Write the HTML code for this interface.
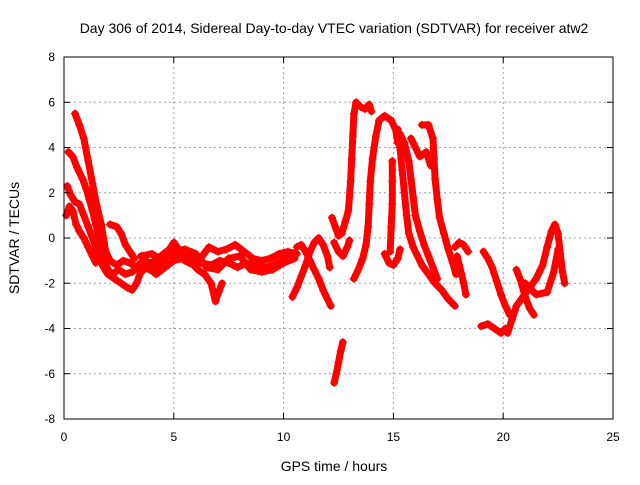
<!DOCTYPE html>
<html><head><meta charset="utf-8"><style>
body{margin:0;background:#fff;}
svg text{font-family:"Liberation Sans",sans-serif;fill:#000;}
</style></head><body>
<svg id="chart" width="640" height="480" viewBox="0 0 640 480" xmlns="http://www.w3.org/2000/svg">
<rect width="640" height="480" fill="#fff"/>
<text x="334" y="33" font-size="14" text-anchor="middle">Day 306 of 2014, Sidereal Day-to-day VTEC variation (SDTVAR) for receiver atw2</text>
<text x="334" y="471" font-size="14" text-anchor="middle">GPS time / hours</text>
<text x="19" y="238" font-size="14" text-anchor="middle" transform="rotate(-90 19 238)">SDTVAR / TECUs</text>
<g id="grid"></g><g id="marks"></g>
<rect x="64" y="57" width="549" height="362" fill="none" stroke="#000" stroke-width="1"/>
<g id="ticks"></g>
</svg>
<script>
const xTicks=[0,5,10,15,20,25];
const yTicks=[-8,-6,-4,-2,0,2,4,6,8];
const tracks=[
[[0.5,5.5],[0.7,5.0],[0.9,4.4],[1.1,3.4],[1.3,2.4],[1.5,1.4],[1.7,0.6],[1.8,0.0],[1.9,-0.6],[2.1,-1.0],[2.4,-1.2],[2.7,-1.0],[3.0,-1.1],[3.3,-1.3],[3.6,-1.0],[4.0,-1.1],[4.4,-0.8],[4.8,-0.5],[5.0,-0.2],[5.3,-0.6],[5.7,-0.8],[6.0,-1.0],[6.3,-0.8],[6.6,-0.4],[7.0,-0.6],[7.4,-0.5],[7.8,-0.3],[8.2,-0.6],[8.6,-0.9],[9.0,-1.0],[9.4,-0.9],[9.8,-0.7],[10.2,-0.6],[10.6,-0.7]],
[[0.2,3.8],[0.4,3.6],[0.6,3.1],[0.85,2.6],[1.0,2.2],[1.15,1.7],[1.3,1.2],[1.45,0.6],[1.6,0.0],[1.7,-0.5],[1.85,-1.0],[2.0,-1.4],[2.2,-1.6],[2.5,-1.4],[2.8,-1.6],[3.1,-1.5],[3.5,-1.2],[3.9,-1.4],[4.3,-1.2],[4.7,-0.8],[5.1,-0.7],[5.5,-1.0],[5.9,-1.2],[6.3,-1.1],[6.7,-1.2],[7.1,-1.0],[7.5,-1.1],[7.9,-1.3],[8.3,-1.1],[8.7,-1.2],[9.1,-1.3],[9.5,-1.2],[9.9,-1.0],[10.3,-0.8]],
[[0.15,2.3],[0.3,1.9],[0.5,1.6],[0.7,1.5],[0.9,1.0],[1.1,0.5],[1.3,0.0],[1.45,-0.4],[1.6,-0.9],[1.8,-1.3],[2.0,-1.6],[2.3,-1.8],[2.6,-2.0],[2.9,-2.2],[3.1,-2.3],[3.3,-2.0],[3.5,-1.5],[3.8,-1.3],[4.2,-1.6],[4.6,-1.3],[5.0,-1.0],[5.4,-0.9],[5.8,-1.1],[6.1,-1.4],[6.4,-1.6],[6.7,-2.0],[6.9,-2.8],[7.0,-2.5],[7.2,-2.0]],
[[0.1,1.0],[0.25,1.4],[0.4,1.2],[0.55,0.6],[0.7,0.3],[0.9,0.0],[1.1,-0.4],[1.3,-0.8],[1.45,-1.1]],
[[2.1,0.6],[2.4,0.5],[2.6,0.2],[2.8,-0.3],[3.0,-0.6],[3.2,-0.9]],
[[3.5,-0.8],[4.0,-0.7],[4.5,-1.0],[5.0,-0.6],[5.5,-0.5],[6.0,-0.7],[6.5,-1.3],[7.0,-1.4],[7.5,-0.9],[8.0,-0.8],[8.5,-1.4],[9.0,-1.5],[9.5,-1.4],[10.0,-1.1],[10.5,-0.9]],
[[10.4,-2.6],[10.6,-2.2],[10.8,-1.7],[11.0,-1.2],[11.2,-0.6],[11.4,-0.2],[11.6,0.0],[11.8,-0.3],[12.0,-0.8],[12.1,-1.3]],
[[10.6,-0.4],[10.8,-0.3],[11.0,-0.6],[11.2,-1.0],[11.4,-1.4],[11.6,-1.8],[11.8,-2.3],[12.0,-2.7],[12.15,-3.0]],
[[12.3,-6.4],[12.4,-6.0],[12.5,-5.5],[12.6,-5.0],[12.7,-4.6]],
[[12.2,0.9],[12.35,0.5],[12.5,0.1],[12.65,0.2],[12.8,0.7],[12.95,1.2],[13.05,2.5],[13.1,3.5],[13.15,4.5],[13.2,5.5],[13.3,6.0],[13.5,5.8],[13.7,5.7],[13.9,5.9],[14.0,5.6]],
[[12.3,-0.2],[12.5,-0.6],[12.7,-0.8],[12.9,-0.4],[13.0,-0.1]],
[[13.2,-1.8],[13.4,-1.4],[13.6,-0.9],[13.75,-0.3],[13.85,0.5],[13.9,1.5],[13.95,2.5],[14.05,3.5],[14.2,4.5],[14.35,5.2],[14.6,5.4],[14.9,5.2],[15.1,4.8],[15.2,4.2]],
[[14.6,-0.7],[14.8,-1.1],[15.0,-1.2],[15.2,-0.9],[15.3,-0.5]],
[[14.85,-0.6],[14.9,0.5],[14.95,1.5],[14.95,2.5],[14.95,3.4]],
[[15.2,4.8],[15.3,4.0],[15.4,3.0],[15.5,2.0],[15.6,1.0],[15.7,0.2],[15.9,-0.4],[16.1,-0.8],[16.3,-1.2],[16.6,-1.6],[16.9,-2.0],[17.2,-2.3],[17.5,-2.7],[17.8,-3.0]],
[[15.3,4.6],[15.5,4.2],[15.7,3.4],[15.8,2.6],[15.9,1.8],[16.0,1.0],[16.2,0.3],[16.4,-0.3],[16.6,-0.8],[16.8,-1.3],[17.0,-1.8]],
[[16.3,5.0],[16.6,5.0],[16.8,4.4],[16.85,3.5],[16.9,2.6],[17.0,1.7],[17.1,0.9],[17.3,0.2],[17.5,-0.5],[17.7,-1.1],[17.85,-1.6]],
[[15.8,4.4],[16.0,4.0],[16.2,3.6],[16.5,3.8],[16.7,3.2]],
[[17.8,-0.4],[18.0,-0.2],[18.2,-0.3],[18.4,-0.6]],
[[17.9,-0.8],[18.0,-1.2],[18.1,-1.6],[18.2,-2.0],[18.3,-2.5]],
[[19.1,-0.6],[19.3,-0.9],[19.5,-1.3],[19.7,-1.9],[19.9,-2.5],[20.1,-3.0],[20.3,-3.4]],
[[19.0,-3.9],[19.3,-3.8],[19.6,-4.0],[19.9,-4.2],[20.1,-4.0]],
[[20.2,-4.2],[20.4,-3.6],[20.6,-3.0],[20.9,-2.6],[21.2,-2.2],[21.5,-1.8],[21.8,-1.2],[22.0,-0.4],[22.2,0.3],[22.35,0.6],[22.5,0.2],[22.6,-0.7],[22.7,-1.5],[22.8,-2.0]],
[[20.6,-1.4],[20.8,-1.9],[21.0,-2.6],[21.2,-3.1],[21.4,-3.4]],
[[21.0,-2.0],[21.5,-2.5],[22.0,-2.4],[22.3,-1.5],[22.5,-0.5]]
];
const NS='http://www.w3.org/2000/svg';
const X0=64,X1=613,Y0=419,Y1=57;
function xs(v){return X0+(v-0)/(25-0)*(X1-X0);}
function ys(v){return Y0-(v+8)/16*(Y0-Y1);}
const grid=document.getElementById('grid'),ticks=document.getElementById('ticks'),marks=document.getElementById('marks');
function mk(tag,a,p){const e=document.createElementNS(NS,tag);for(const k in a)e.setAttribute(k,a[k]);p.appendChild(e);return e;}
xTicks.forEach(t=>{
  const x=xs(t);
  if(t>0&&t<25){const g=mk('line',{x1:x,x2:x,y1:Y0,y2:Y1,stroke:'#a0a0a0','stroke-dasharray':'2,3'},grid);
  
  }
  mk('line',{x1:x,x2:x,y1:Y0,y2:Y0-6,stroke:'#000'},ticks);
  mk('line',{x1:x,x2:x,y1:Y1,y2:Y1+6,stroke:'#000'},ticks);
  const tx=mk('text',{x:x,y:Y0+22,'font-size':12,'text-anchor':'middle'},ticks);tx.textContent=t;
  
  
});
yTicks.forEach(t=>{
  const y=ys(t);
  if(t>-8&&t<8){const g=mk('line',{x1:X0,x2:X1,y1:y,y2:y,stroke:'#a0a0a0','stroke-dasharray':'2,3'},grid);
  
  }
  mk('line',{x1:X0,x2:X0+6,y1:y,y2:y,stroke:'#000'},ticks);
  mk('line',{x1:X1,x2:X1-6,y1:y,y2:y,stroke:'#000'},ticks);
  const tx=mk('text',{x:X0-9,y:y+4,'font-size':12,'text-anchor':'end'},ticks);tx.textContent=t;
  
  
});
tracks.forEach((tr,i)=>{
  const g=mk('g',{},marks);
  
  
  const d=tr.map((p,j)=>(j?'L':'M')+xs(p[0]).toFixed(1)+','+ys(p[1]).toFixed(1)).join('');
  mk('path',{d:d,fill:'none',stroke:'#f00','stroke-width':7,'stroke-linejoin':'round','stroke-linecap':'round'},g);
  tr.forEach(p=>{
    const x=xs(p[0]),y=ys(p[1]);
    const m=mk('path',{d:`M${x-4},${y}H${x+4}M${x},${y-4}V${y+4}`,stroke:'#f00','stroke-width':1.2},g);
    
    
  });
});
</script>
</body></html>
